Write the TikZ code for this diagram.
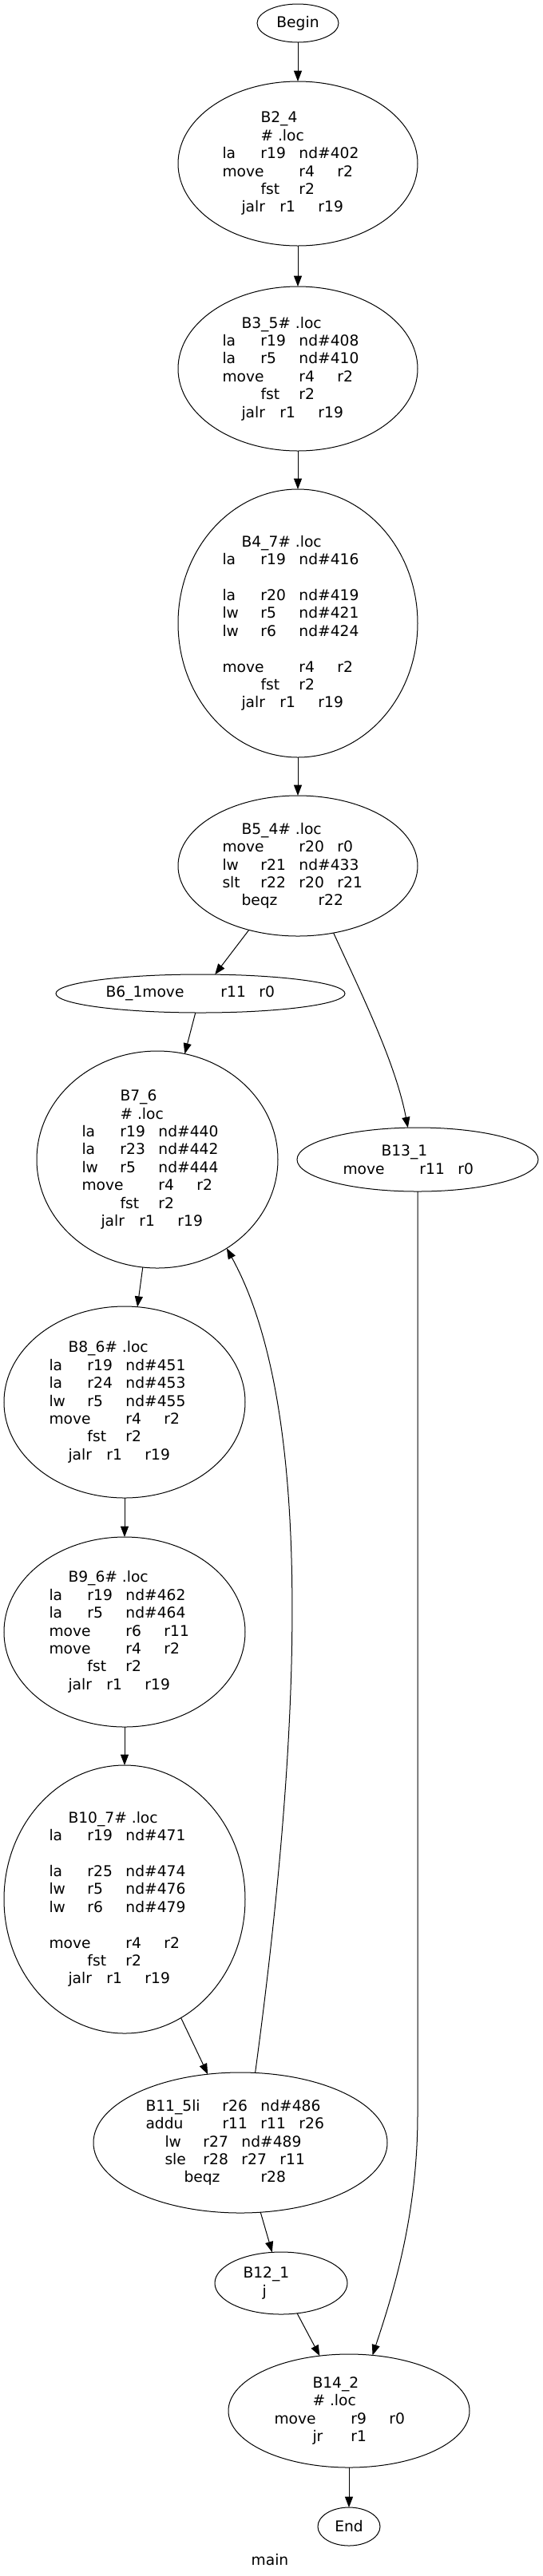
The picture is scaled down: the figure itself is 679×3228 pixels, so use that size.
\documentclass[tikz,border=0pt]{standalone}
\usepackage{fontspec}
\setmainfont{DejaVu Sans}
\usetikzlibrary{shapes.geometric,arrows.meta}
\newcommand{\tb}[1]{\makebox[36pt][l]{#1}}
\newcommand{\tbb}[1]{\makebox[72pt][l]{#1}}
\newcommand{\halft}{\hspace*{18pt}}
\begin{document}
\begin{tikzpicture}[>={Triangle[length=10pt,width=7.5pt]},x=0.75pt,y=-0.75pt,line width=0.75pt,
	blk/.style 2 args={draw,ellipse,inner sep=0pt,outer sep=0pt,minimum width=#1*1.5pt,minimum height=#2*1.5pt,font=\fontsize{14}{16.8}\selectfont},
	code/.style={anchor=west,align=left,inner sep=0pt,font=\fontsize{14}{16.8}\selectfont}]
	\useasboundingbox (0,0) rectangle (679,3228);
	% blocks, centres and radii in px
	\node[blk={51}{24}] (Begin) at (373,29) {Begin};
	\node[blk={150}{103}] (B2_4) at (373,205) {};
	\node[code] (B2_4txt) at (278,205) {\tb{}B2\_4\\ \tb{}\# .loc\\ \tb{la}\tb{r19}nd\#402\\ \tbb{move}\tb{r4}r2\\ \tb{}\tb{fst}r2\\ \halft\tb{jalr}\tb{r1}r19};
	\node[blk={150}{103}] (B3_5) at (373,462) {};
	\node[code] (B3_5txt) at (278,462) {\halft B3\_5\# .loc\\ \tb{la}\tb{r19}nd\#408\\ \tb{la}\tb{r5}nd\#410\\ \tbb{move}\tb{r4}r2\\ \tb{}\tb{fst}r2\\ \halft\tb{jalr}\tb{r1}r19};
	\node[blk={150}{168}] (B4_7) at (373,781) {};
	\node[code] (B4_7txt) at (278,781) {\halft B4\_7\# .loc\\ \tb{la}\tb{r19}nd\#416\\ \mbox{}\\ \tb{la}\tb{r20}nd\#419\\ \tb{lw}\tb{r5}nd\#421\\ \tb{lw}\tb{r6}nd\#424\\ \mbox{}\\ \tbb{move}\tb{r4}r2\\ \tb{}\tb{fst}r2\\ \halft\tb{jalr}\tb{r1}r19};
	\node[blk={150}{88}] (B5_4) at (373,1085) {};
	\node[code] (B5_4txt) at (278,1085) {\halft B5\_4\# .loc\\ \tbb{move}\tb{r20}r0\\ \tb{lw}\tb{r21}nd\#433\\ \tb{slt}\tb{r22}\tb{r20}r21\\ \halft\tbb{beqz}r22};
	\node[blk={181}{24}] (B6_1) at (251,1245) {};
	\node[code] (B6_1txt) at (132,1245) {\makebox[108pt][l]{B6\_1move}\tb{r11}r0};
	\node[blk={151}{136}] (B7_6) at (197,1453) {};
	\node[code] (B7_6txt) at (102,1453) {\tb{}B7\_6\\ \tb{}\# .loc\\ \tb{la}\tb{r19}nd\#440\\ \tb{la}\tb{r23}nd\#442\\ \tb{lw}\tb{r5}nd\#444\\ \tbb{move}\tb{r4}r2\\ \tb{}\tb{fst}r2\\ \halft\tb{jalr}\tb{r1}r19};
	\node[blk={151}{40}] (B13_1) at (523,1453) {};
	\node[code] (B13_1txt) at (429,1453) {\tb{}B13\_1\\ \tbb{move}\tb{r11}r0};
	\node[blk={151}{120}] (B8_6) at (156,1757) {};
	\node[code] (B8_6txt) at (61,1757) {\halft B8\_6\# .loc\\ \tb{la}\tb{r19}nd\#451\\ \tb{la}\tb{r24}nd\#453\\ \tb{lw}\tb{r5}nd\#455\\ \tbb{move}\tb{r4}r2\\ \tb{}\tb{fst}r2\\ \halft\tb{jalr}\tb{r1}r19};
	\node[blk={151}{119}] (B9_6) at (156,2045) {};
	\node[code] (B9_6txt) at (61,2045) {\halft B9\_6\# .loc\\ \tb{la}\tb{r19}nd\#462\\ \tb{la}\tb{r5}nd\#464\\ \tbb{move}\tb{r6}r11\\ \tbb{move}\tb{r4}r2\\ \tb{}\tb{fst}r2\\ \halft\tb{jalr}\tb{r1}r19};
	\node[blk={151}{168}] (B10_7) at (156,2380) {};
	\node[code] (B10_7txt) at (61,2380) {\halft B10\_7\# .loc\\ \tb{la}\tb{r19}nd\#471\\ \mbox{}\\ \tb{la}\tb{r25}nd\#474\\ \tb{lw}\tb{r5}nd\#476\\ \tb{lw}\tb{r6}nd\#479\\ \mbox{}\\ \tbb{move}\tb{r4}r2\\ \tb{}\tb{fst}r2\\ \halft\tb{jalr}\tb{r1}r19};
	\node[blk={184}{88}] (B11_5) at (301,2685) {};
	\node[code] (B11_5txt) at (182,2685) {\tbb{B11\_5li}\tb{r26}nd\#486\\ \tbb{addu}\tb{r11}\tb{r11}r26\\ \halft\tb{lw}\tb{r27}nd\#489\\ \halft\tb{sle}\tb{r28}\tb{r27}r11\\ \tb{}\tbb{beqz}r28};
	\node[blk={83}{39}] (B12_1) at (352,2861) {};
	\node[code] (B12_1txt) at (304,2861) {B12\_1\\ \halft j};
	\node[blk={151}{71}] (B14_2) at (437,3021) {};
	\node[code] (B14_2txt) at (343,3021) {\tb{}B14\_2\\ \tb{}\# .loc\\ \tbb{move}\tb{r9}r0\\ \tb{}\tb{jr}r1};
	\node[blk={39}{24}] (End) at (437,3166) {End};
	\node[font=\fontsize{14}{16.8}\selectfont,inner sep=0pt] (main) at (338,3207) {main};
	% edges
	\draw[->] (Begin) -- (B2_4);
	\draw[->] (B2_4) -- (B3_5);
	\draw[->] (B3_5) -- (B4_7);
	\draw[->] (B4_7) -- (B5_4);
	\draw[->] (B5_4) -- (B6_1);
	\draw[->] (B5_4.-62) .. controls (450,1240) and (495,1330) .. (B13_1.107);
	\draw[->] (B6_1) -- (B7_6);
	\draw[->] (B7_6) -- (B8_6);
	\draw[->] (B8_6) -- (B9_6);
	\draw[->] (B9_6) -- (B10_7);
	\draw[->] (B10_7) -- (B11_5);
	\draw[->] (B11_5.78) .. controls (380,2150) and (392,1760) .. (B7_6.-52);
	\draw[->] (B11_5) -- (B12_1);
	\draw[->] (B12_1) -- (B14_2);
	\draw[->] (B13_1.south) -- (523,2650) .. controls (523,2780) and (490,2880) .. (B14_2.67);
	\draw[->] (B14_2) -- (End);
\end{tikzpicture}
\end{document}
